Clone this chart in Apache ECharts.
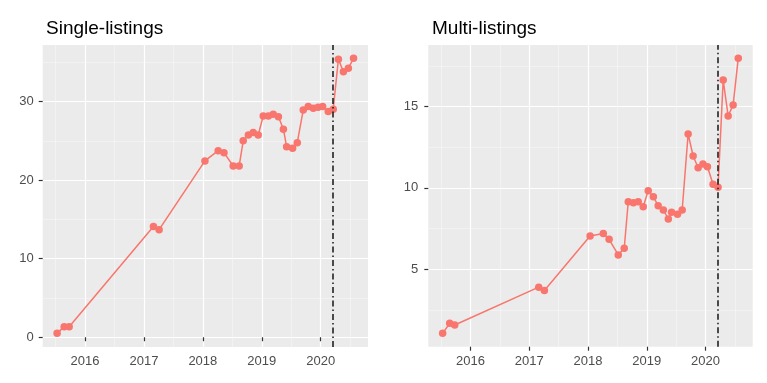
<!DOCTYPE html>
<html>
<head>
<meta charset="utf-8">
<script src="https://cdn.jsdelivr.net/npm/echarts@6/dist/echarts.min.js"></script>
<style>
html,body{margin:0;padding:0;background:#fff;}
#chart{width:767px;height:383px;}
</style>
</head>
<body>
<div id="chart"></div>
<script>
// Scrape dates (shared by both panels)
const dates = ['2015-07-12','2015-08-25','2015-09-25',
  '2017-03-01','2017-04-05',
  '2018-01-14','2018-04-06','2018-05-12','2018-07-08','2018-08-14','2018-09-08','2018-10-10','2018-11-09','2018-12-10',
  '2019-01-10','2019-02-11','2019-03-13','2019-04-14','2019-05-15','2019-06-04','2019-07-11','2019-08-09','2019-09-15','2019-10-16','2019-11-16','2019-12-16',
  '2020-01-13','2020-02-17','2020-03-19','2020-04-20','2020-05-21','2020-06-21','2020-07-23'];
const singleListings = [0.5,1.35,1.35,
  14.1,13.7,
  22.45,23.75,23.5,21.8,21.8,25.0,25.75,26.05,25.75,
  28.17,28.17,28.4,28.08,26.48,24.26,24.06,24.77,28.94,29.36,29.15,29.28,
  29.36,28.72,29.03,35.4,33.8,34.25,35.5];
const multiListings = [1.06,1.68,1.57,
  3.9,3.7,
  7.04,7.2,6.84,5.88,6.29,9.15,9.09,9.15,8.84,
  9.83,9.46,8.9,8.64,8.09,8.5,8.38,8.64,13.31,11.96,11.24,11.47,
  11.3,10.22,10.04,16.63,14.42,15.1,17.97];
const titles = ['Single-listings','Multi-listings'];
const xMajorTicks = [2016,2017,2018,2019,2020];
const xMinorTicks = [2015.5,2016.5,2017.5,2018.5,2019.5,2020.5];
const xRange = [2015.282,2020.803];
const eventDate = '2020-03-16';
const singleYTicks = [0,10,20,30];
const singleYMinor = [5,15,25,35];
const singleYRange = [-1.24,37.2];
const multiYTicks = [5,10,15];
const multiYMinor = [2.5,7.5,12.5,17.5];
const multiYRange = [0.24,18.78];

// date string -> decimal year (position on the x scale)
function toYear(s){
  const d = Date.parse(s + 'T00:00:00Z');
  const y = Number(s.slice(0,4));
  const a = Date.UTC(y,0,1), b = Date.UTC(y+1,0,1);
  return y + (d - a) / (b - a);
}

const chart = echarts.init(document.getElementById('chart'), null, {renderer:'canvas'});
const FONT = 'Liberation Sans';
const RED = '#F8766D';

function pairs(vals){ return dates.map((d,i)=>[toYear(d), vals[i]]); }

function xMajor(g){
  return {gridIndex:g, type:'value', min:xRange[0], max:xRange[1], position:'bottom',
    axisLine:{show:false},
    axisTick:{show:true, length:4, lineStyle:{color:'#333', width:1.2}, customValues:xMajorTicks},
    axisLabel:{show:true, customValues:xMajorTicks, margin:8, color:'#4D4D4D', fontSize:13, fontFamily:FONT,
      formatter:function(v){return String(Math.round(v));}},
    splitLine:{show:true, lineStyle:{color:'#ffffff', width:1.2}}};
}
function xMinor(g){
  return {gridIndex:g, type:'value', min:xRange[0], max:xRange[1], position:'top',
    axisLine:{show:false}, axisTick:{show:false, customValues:xMinorTicks},
    axisLabel:{show:false}, splitLine:{show:true, lineStyle:{color:'#f7f7f7', width:0.6}}};
}
function yMajor(g, r, t, margin){
  return {gridIndex:g, type:'value', min:r[0], max:r[1], position:'left',
    axisLine:{show:false},
    axisTick:{show:true, length:4, lineStyle:{color:'#333', width:1.2}, customValues:t},
    axisLabel:{show:true, customValues:t, margin:margin, color:'#4D4D4D', fontSize:13, fontFamily:FONT},
    splitLine:{show:true, lineStyle:{color:'#ffffff', width:1.2}}};
}
function yMinor(g, r, t){
  return {gridIndex:g, type:'value', min:r[0], max:r[1], position:'right',
    axisLine:{show:false}, axisTick:{show:false, customValues:t},
    axisLabel:{show:false}, splitLine:{show:true, lineStyle:{color:'#f7f7f7', width:0.6}}};
}
function series(vals, xi, yi){
  return {type:'line', xAxisIndex:xi, yAxisIndex:yi, data:pairs(vals),
    symbol:'circle', symbolSize:7.5, showSymbol:true,
    lineStyle:{color:RED, width:1.5}, itemStyle:{color:RED},
    z:3, animation:false,
    markLine:{silent:true, symbol:['none','none'], label:{show:false},
      lineStyle:{color:'#222', width:1.6, type:[6,3,1.5,3]},
      data:[{xAxis:toYear(eventDate)}], animation:false, z:4}};
}

const option = {
  backgroundColor:'#ffffff',
  animation:false,
  title:[
    {text:titles[0], left:41, top:14, textStyle:{fontSize:19, fontWeight:'normal', color:'#000', fontFamily:FONT}},
    {text:titles[1], left:427, top:14, textStyle:{fontSize:19, fontWeight:'normal', color:'#000', fontFamily:FONT}}
  ],
  grid:[
    {left:42.7, top:45, width:325.3, height:302, show:true, backgroundColor:'#EBEBEB', borderWidth:0, outerBoundsMode:'none'},
    {left:428.3, top:45, width:324.4, height:301.7, show:true, backgroundColor:'#EBEBEB', borderWidth:0, outerBoundsMode:'none'}
  ],
  xAxis:[xMajor(0), xMinor(0), xMajor(1), xMinor(1)],
  yAxis:[yMajor(0, singleYRange, singleYTicks, 9), yMinor(0, singleYRange, singleYMinor),
         yMajor(1, multiYRange, multiYTicks, 10), yMinor(1, multiYRange, multiYMinor)],
  series:[series(singleListings,0,0), series(multiListings,2,2)]
};
chart.setOption(option);
</script>
</body>
</html>
